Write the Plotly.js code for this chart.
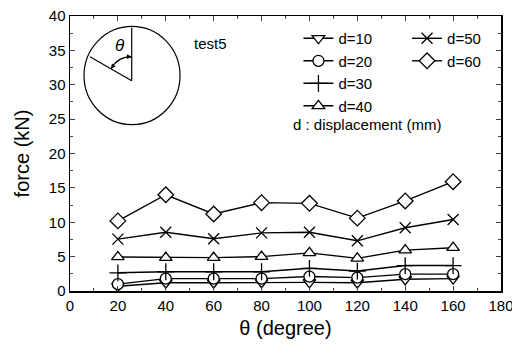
<!DOCTYPE html>
<html>
<head>
<meta charset="utf-8">
<script src="https://cdn.plot.ly/plotly-3.0.1.min.js"></script>
<style>html,body{margin:0;padding:0;background:#fff;}#chart{width:512px;height:348px;}</style>
</head>
<body>
<div id="chart"></div>
<script>
const theta = [20, 40, 60, 80, 100, 120, 140, 160];
const d10 = [0.7, 1.2, 1.2, 1.25, 1.25, 1.2, 1.7, 1.8];
const d20 = [1.0, 1.8, 1.8, 1.8, 2.1, 1.95, 2.45, 2.45];
const d30 = [2.65, 2.8, 2.8, 2.8, 3.3, 2.9, 3.7, 3.7];
const d40 = [4.95, 4.85, 4.85, 5.0, 5.55, 4.75, 5.95, 6.3];
const d50 = [7.55, 8.55, 7.6, 8.45, 8.55, 7.3, 9.2, 10.4];
const d60 = [10.2, 14.0, 11.2, 12.85, 12.75, 10.6, 13.1, 15.9];
const names = ['d=10', 'd=20', 'd=30', 'd=40', 'd=50', 'd=60'];
const series = [d10, d20, d30, d40, d50, d60];
const symbols = ['triangle-down', 'circle', 'cross-thin', 'triangle-up', 'x-thin', 'diamond'];
const sizes = [11, 11, 12, 11, 11, 12];
const legends = ['legend', 'legend', 'legend', 'legend', 'legend2', 'legend2'];

const traces = series.map((ys, i) => ({
  x: theta, y: ys, name: names[i], type: 'scatter', mode: 'lines+markers',
  line: {color: 'black', width: 1.4},
  marker: {symbol: symbols[i], size: sizes[i], color: 'white', line: {color: 'black', width: 1.3}},
  legend: legends[i], legendgroup: 'g' + i
}));

const font = {family: 'Liberation Sans, Arial, sans-serif', color: 'black'};
const cx = 0.1432, cy = 0.7647;
const layout = {
  width: 512, height: 348,
  margin: {l: 70, r: 11, t: 16, b: 57},
  paper_bgcolor: 'white', plot_bgcolor: 'white',
  font: Object.assign({size: 15}, font),
  xaxis: {
    range: [0, 180], dtick: 20, tick0: 0, ticks: 'inside', ticklen: 5, tickwidth: 1,
    minor: {dtick: 10, ticks: 'inside', ticklen: 3, tickwidth: 1},
    showline: true, linecolor: 'black', linewidth: 1.5, mirror: 'ticks',
    showgrid: false, zeroline: false, ticklabeloverflow: 'allow',
    tickfont: Object.assign({size: 15}, font),
    title: {text: 'θ (degree)', font: Object.assign({size: 20}, font), standoff: 8}
  },
  yaxis: {
    range: [0, 40], dtick: 5, tick0: 0, ticks: 'inside', ticklen: 5, tickwidth: 1,
    minor: {dtick: 2.5, ticks: 'inside', ticklen: 3, tickwidth: 1},
    showline: true, linecolor: 'black', linewidth: 1.5, mirror: 'ticks',
    showgrid: false, zeroline: false,
    tickfont: Object.assign({size: 15}, font),
    title: {text: 'force (kN)', font: Object.assign({size: 20}, font), standoff: 14}
  },
  showlegend: true,
  legend: {x: 0.53, y: 0.978, xanchor: 'left', yanchor: 'top', bgcolor: 'rgba(0,0,0,0)',
           font: Object.assign({size: 15}, font), tracegroupgap: 0, traceorder: 'grouped'},
  legend2: {x: 0.782, y: 0.978, xanchor: 'left', yanchor: 'top', bgcolor: 'rgba(0,0,0,0)',
           font: Object.assign({size: 15}, font), tracegroupgap: 0, traceorder: 'grouped'},
  shapes: [
    {type: 'circle', xref: 'paper', yref: 'paper', x0: 0.0325, x1: 0.2553, y0: 0.605, y1: 0.962,
     line: {color: 'black', width: 1.2}},
    {type: 'line', xref: 'paper', yref: 'paper', x0: cx, y0: cy, x1: cx, y1: 0.958,
     line: {color: 'black', width: 1.2}},
    {type: 'line', xref: 'paper', yref: 'paper', x0: cx, y0: cy, x1: 0.0464, y1: 0.852,
     line: {color: 'black', width: 1.2}},
    {type: 'path', xref: 'paper', yref: 'paper',
     path: 'M 0.0950 0.8080 Q 0.1110 0.8520 0.1432 0.8520',
     line: {color: 'black', width: 1.2}}
  ],
  annotations: [
    {xref: 'paper', yref: 'paper', x: 0.1, y: 0.935, text: '<i>θ</i>', showarrow: false,
     font: Object.assign({size: 17}, font)},
    {xref: 'paper', yref: 'paper', x: 0.283, y: 0.937, xanchor: 'left', text: 'test5', showarrow: false,
     font: Object.assign({size: 15}, font)},
    {xref: 'paper', yref: 'paper', x: 0.513, y: 0.605, xanchor: 'left', text: 'd : displacement (mm)', showarrow: false,
     font: Object.assign({size: 15}, font)},
    {xref: 'paper', yref: 'paper', x: 0.1432, y: 0.8520, ax: -5, ay: 0, text: '', showarrow: true,
     arrowhead: 2, arrowsize: 0.8, arrowwidth: 1.2, arrowcolor: 'black', standoff: 0},
    {xref: 'paper', yref: 'paper', x: 0.0950, y: 0.8080, ax: 3, ay: -4, text: '', showarrow: true,
     arrowhead: 2, arrowsize: 0.8, arrowwidth: 1.2, arrowcolor: 'black', standoff: 0}
  ]
};
Plotly.newPlot('chart', traces, layout, {displayModeBar: false, staticPlot: true});
</script>
</body>
</html>
